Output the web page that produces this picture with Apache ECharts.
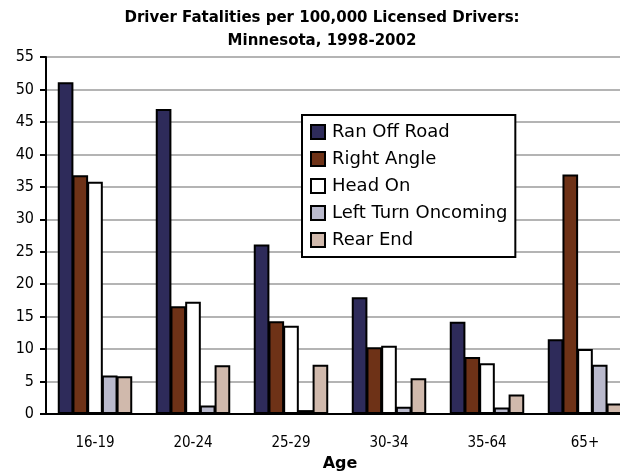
<!DOCTYPE html>
<html>
<head>
<meta charset="utf-8">
<script src="https://cdn.jsdelivr.net/npm/echarts@6/dist/echarts.min.js"></script>
<style>
	html, body { margin: 0; padding: 0; background: #fff; }
	#chart { width: 620px; height: 472px; }
</style>
</head>
<body>
<div id="chart"></div>
<script>
var ages = [ '16-19', '20-24', '25-29', '30-34', '35-64', '65+' ];
var ranOffRoad = [ 51.1, 47.0, 26.1, 18.0, 14.2, 11.5 ];
var rightAngle = [ 36.8, 16.6, 14.3, 10.3, 8.8, 36.9 ];
var headOn = [ 35.8, 17.3, 13.6, 10.5, 7.8, 10.0 ];
var leftTurnOncoming = [ 5.95, 1.3, 0.6, 1.1, 1.0, 7.6 ];
var rearEnd = [ 5.8, 7.5, 7.6, 5.5, 3.0, 1.6 ];
var yTicks = [ 0, 5, 10, 15, 20, 25, 30, 35, 40, 45, 50, 55 ];

var names = [ 'Ran Off Road', 'Right Angle', 'Head On', 'Left Turn Oncoming', 'Rear End' ];
var colors = [ '#2e2b5a', '#6e3217', '#ffffff', '#b9b9cc', '#d0b9ac' ];
var values = [ ranOffRoad, rightAngle, headOn, leftTurnOncoming, rearEnd ];

var narrow = '"DejaVu Sans Condensed", "Liberation Sans Narrow", sans-serif';

var chart = echarts.init(document.getElementById('chart'));

var series = names.map(function(n, i) {
	return {
		name : n,
		type : 'bar',
		data : values[i],
		barGap : '-6%',
		barCategoryGap : '24%',
		itemStyle : {
			color : colors[i],
			borderColor : '#000',
			borderWidth : 2
		}
	};
});

var option = {
	animation : false,
	backgroundColor : '#fff',
	title : {
		text : 'Driver Fatalities per 100,000 Licensed Drivers:\nMinnesota, 1998-2002',
		left : 317,
		top : 2,
		textAlign : 'center',
		textStyle : {
			fontFamily : 'DejaVu Sans',
			fontWeight : 'bold',
			fontSize : 15,
			lineHeight : 23,
			color : '#000'
		}
	},
	legend : {
		orient : 'vertical',
		left : 302,
		top : 115,
		padding : [ 8, 8, 8, 8 ],
		itemWidth : 14,
		itemHeight : 14,
		itemGap : 9,
		icon : 'rect',
		backgroundColor : '#fff',
		borderColor : '#000',
		borderWidth : 2,
		borderRadius : 0,
		textStyle : {
			fontFamily : 'DejaVu Sans',
			fontSize : 18,
			padding : [ 0, 0, 0, 2 ],
			color : '#000'
		},
		data : names
	},
	grid : {
		left : 46,
		right : -14,
		top : 57,
		bottom : 58,
		containLabel : false,
		outerBoundsMode : 'none'
	},
	xAxis : {
		type : 'category',
		data : ages,
		name : 'Age',
		nameLocation : 'middle',
		nameGap : 40,
		nameTextStyle : {
			fontFamily : 'DejaVu Sans',
			fontWeight : 'bold',
			fontSize : 16,
			color : '#000'
		},
		axisLine : { lineStyle : { color : '#000', width : 2 } },
		axisTick : { length : 7, lineStyle : { color : '#000', width : 2 } },
		axisLabel : {
			margin : 22,
			fontFamily : narrow,
			fontSize : 15,
			color : '#000'
		}
	},
	yAxis : {
		type : 'value',
		min : yTicks[0],
		max : yTicks[yTicks.length - 1],
		interval : 5,
		axisLine : { show : true, lineStyle : { color : '#000', width : 2 } },
		axisTick : { show : true, length : 6, lineStyle : { color : '#000', width : 2 } },
		axisLabel : {
			margin : 12,
			fontFamily : narrow,
			fontSize : 16,
			color : '#000'
		},
		splitLine : { lineStyle : { color : '#b4b4b4', width : 2 } }
	},
	series : series
};
chart.setOption(option);
</script>
</body>
</html>
